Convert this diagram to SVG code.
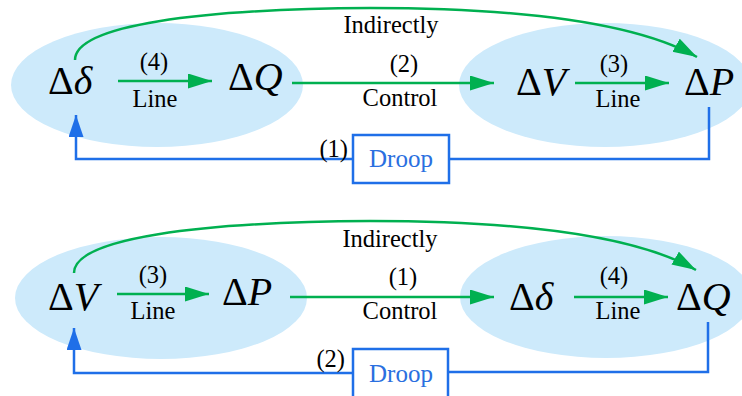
<svg xmlns="http://www.w3.org/2000/svg" width="742" height="396" viewBox="0 0 742 396">
<style>
.ell{fill:#cdeafb;stroke:none}
.math{font-family:"Liberation Serif",serif;font-size:40px;fill:#000}
.it{font-style:italic}
.lbl{font-family:"Liberation Serif",serif;font-size:24.5px;fill:#000;text-anchor:middle}
.g{fill:none;stroke:#00b050;stroke-width:2.5}
.b{fill:none;stroke:#1f6fe8;stroke-width:2.5}
.box{fill:#fff;stroke:#1f6fe8;stroke-width:2.5}
.droop{font-family:"Liberation Serif",serif;font-size:25px;fill:#2a6fe0;text-anchor:middle}
</style>
<defs>
<marker id="ga" markerUnits="userSpaceOnUse" markerWidth="26" markerHeight="16" refX="24" refY="7.5" orient="auto"><path d="M0,0 L24,7.5 L0,15 z" fill="#00b050"/></marker>
<marker id="ba" markerUnits="userSpaceOnUse" markerWidth="24" markerHeight="16" refX="22" refY="7.5" orient="auto"><path d="M0,0 L22,7.5 L0,15 z" fill="#1f6fe8"/></marker>
</defs>
<g id="top">
<g id="ellipse-top-left"><ellipse class="ell" cx="157" cy="85" rx="146" ry="62"/></g>
<g id="ellipse-top-right"><ellipse class="ell" cx="605" cy="85" rx="146" ry="62"/></g>
<g id="t-ddelta"><text class="math" x="48" y="94">Δ<tspan class="it">δ</tspan></text></g>
<g id="t-dQ"><text class="math" x="228" y="90">Δ<tspan class="it">Q</tspan></text></g>
<g id="t-dV"><text class="math" x="516" y="95">Δ<tspan class="it">V</tspan></text></g>
<g id="t-dP"><text class="math" x="684" y="95">Δ<tspan class="it">P</tspan></text></g>
<g id="t-droop"><rect class="box" x="353" y="135" width="96" height="48"/><text class="droop" x="401" y="167">Droop</text></g>
</g>
<g id="bottom">
<g id="ellipse-bot-left"><ellipse class="ell" cx="161" cy="298" rx="146" ry="61"/></g>
<g id="ellipse-bot-right"><ellipse class="ell" cx="606" cy="297" rx="146" ry="61"/></g>
<g id="b-dV"><text class="math" x="48" y="310">Δ<tspan class="it">V</tspan></text></g>
<g id="b-dP"><text class="math" x="222" y="305">Δ<tspan class="it">P</tspan></text></g>
<g id="b-ddelta"><text class="math" x="509" y="310">Δ<tspan class="it">δ</tspan></text></g>
<g id="b-dQ"><text class="math" x="676" y="310">Δ<tspan class="it">Q</tspan></text></g>
<g id="b-droop"><rect class="box" x="353" y="349" width="95" height="50"/><text class="droop" x="401" y="382">Droop</text></g>
</g>
<g id="connectors">
<path class="g" d="M118,81 L212,81" marker-end="url(#ga)"/>
<path class="g" d="M292,83 L494,83" marker-end="url(#ga)"/>
<path class="g" d="M575,83 L669,83" marker-end="url(#ga)"/>
<path class="g" d="M75,60 C75,25 200,9 370,8 C530,8 640,25 697,57" marker-end="url(#ga)"/>
<path class="b" d="M709,107 L709,159 L449,159"/>
<path class="b" d="M353,159 L76,159 L76,115" marker-end="url(#ba)"/>
<path class="g" d="M117,294 L209,294" marker-end="url(#ga)"/>
<path class="g" d="M290,297 L494,297" marker-end="url(#ga)"/>
<path class="g" d="M574,297 L668,297" marker-end="url(#ga)"/>
<path class="g" d="M74,273 C74,238 200,222 370,221 C530,221 640,238 696,270" marker-end="url(#ga)"/>
<path class="b" d="M708,322 L708,372 L448,372"/>
<path class="b" d="M353,373 L74,373 L74,328" marker-end="url(#ba)"/>
</g>
<g id="labels">
<text class="lbl" x="154" y="70">(4)</text>
<text class="lbl" x="155" y="107">Line</text>
<text class="lbl" x="391" y="33">Indirectly</text>
<text class="lbl" x="404" y="72">(2)</text>
<text class="lbl" x="400" y="106">Control</text>
<text class="lbl" x="614" y="72">(3)</text>
<text class="lbl" x="618" y="107">Line</text>
<text class="lbl" x="348" y="157" style="text-anchor:end">(1)</text>
<text class="lbl" x="153" y="283">(3)</text>
<text class="lbl" x="153" y="319">Line</text>
<text class="lbl" x="390" y="247">Indirectly</text>
<text class="lbl" x="403" y="285">(1)</text>
<text class="lbl" x="400" y="319">Control</text>
<text class="lbl" x="614" y="284">(4)</text>
<text class="lbl" x="618" y="319">Line</text>
<text class="lbl" x="345" y="367" style="text-anchor:end">(2)</text>
</g>
</svg>
